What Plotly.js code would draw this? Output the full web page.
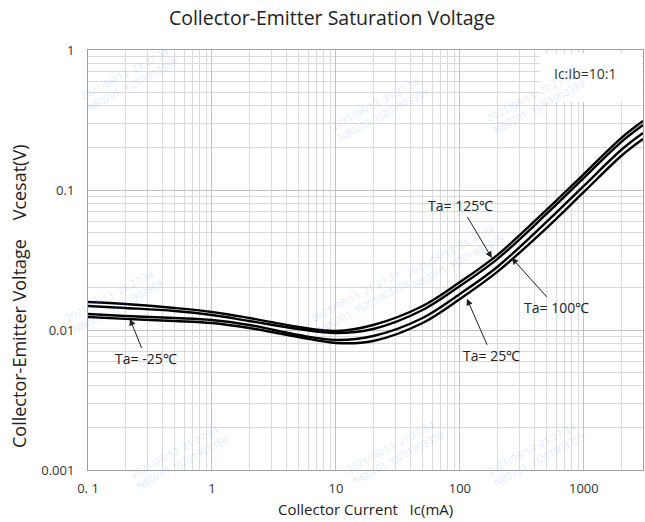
<!DOCTYPE html>
<html>
<head>
<meta charset="utf-8">
<script src="https://cdn.plot.ly/plotly-3.0.1.min.js"></script>
<style>html,body{margin:0;padding:0;background:#fff;}#chart{width:645px;height:522px;}</style>
</head>
<body>
<div id="chart"></div>
<script>
// Collector current (mA)
const icValues = [0.1, 0.2, 0.5, 1, 2, 5, 10, 20, 50, 100, 200, 500, 1000, 2000, 3000];
// Vce(sat) (V) for each ambient temperature
const vce125 = [0.01585, 0.01533, 0.01436, 0.01345, 0.01218, 0.0105, 0.00984, 0.01086, 0.01484, 0.0220, 0.0343, 0.0720, 0.130, 0.235, 0.311];
const vce100 = [0.01484, 0.01436, 0.01367, 0.0128, 0.0116, 0.01017, 0.00952, 0.01017, 0.01389, 0.0206, 0.0321, 0.0674, 0.122, 0.220, 0.291];
const vce25  = [0.01301, 0.01259, 0.01218, 0.01179, 0.01086, 0.00921, 0.00849, 0.00906, 0.01218, 0.0181, 0.0282, 0.0591, 0.107, 0.193, 0.255];
const vceM25 = [0.01238, 0.0120, 0.0116, 0.01122, 0.01033, 0.00891, 0.00808, 0.00835, 0.01122, 0.01665, 0.0260, 0.0535, 0.0968, 0.175, 0.231];

const xTickVals = [0.1, 1, 10, 100, 1000];
const xTickText = ['0. 1', '1', '10', '100', '1000'];
const yTickVals = [0.001, 0.01, 0.1, 1];
const yTickText = ['0.001', '0.01', '0.1', '1'];

const seriesNames = ['Ta=125℃', 'Ta=100℃', 'Ta=25℃', 'Ta=-25℃'];
const seriesValues = [vce125, vce100, vce25, vceM25];

// annotation labels and arrow targets [Ic, Vce]
const labelTexts = ['Ta= 125℃', 'Ta= 100℃', 'Ta= 25℃', 'Ta= -25℃'];
const labelTargets = [[181, 0.0327], [262, 0.0327], [114, 0.0167], [0.218, 0.0120]];
const labelOffsets = [[-31, -52], [45, 50], [25, 57], [16, 40]];

const watermarkText = '2021/08/13  21:27:34<br>NB0201  YJ201903359';
const watermarkPos = [[75, 40], [380, 70], [590, 62], [455, 255], [360, 300], [60, 300], [125, 495], [395, 490], [590, 492]];

const traces = seriesValues.map((v, i) => ({
  x: icValues, y: v, type: 'scatter', mode: 'lines', name: seriesNames[i],
  line: {color: '#000', width: 2.4, shape: 'spline', smoothing: 1},
  hoverinfo: 'skip'
}));

const font = 'Open Sans, Lato, sans-serif';
const L = 88, T = 50, W = 555, H = 420;
const px = (x) => (x - L) / W;
const py = (y) => (T + H - y) / H;

const annotations = [];
watermarkPos.forEach(p => annotations.push({
  xref: 'paper', yref: 'paper', x: px(p[0]), y: py(p[1]), text: watermarkText, showarrow: false,
  textangle: -28, font: {family: font, size: 10, color: 'rgba(110,160,255,0.25)'}, align: 'left'
}));
labelTexts.forEach((t, i) => annotations.push({
  x: Math.log10(labelTargets[i][0]), y: Math.log10(labelTargets[i][1]),
  xref: 'x', yref: 'y', text: t, showarrow: true,
  ax: labelOffsets[i][0], ay: labelOffsets[i][1],
  arrowhead: 2, arrowsize: 1.3, arrowwidth: 1, arrowcolor: '#222',
  font: {family: font, size: 14, color: '#222'}
}));
annotations.push({
  xref: 'paper', yref: 'paper', x: px(585), y: py(73), xanchor: 'center', yanchor: 'middle',
  text: 'Ic:Ib=10:1', showarrow: false, font: {family: font, size: 14, color: '#333'}
});
annotations.push({
  xref: 'paper', yref: 'paper', x: px(365), y: py(509), xanchor: 'center', yanchor: 'middle',
  text: 'Collector Current   Ic(mA)', showarrow: false, font: {family: font, size: 15, color: '#222'}
});
annotations.push({
  xref: 'paper', yref: 'paper', x: px(19), y: py(297), xanchor: 'center', yanchor: 'middle',
  text: 'Collector-Emitter Voltage    Vcesat(V)', showarrow: false, textangle: -90,
  font: {family: font, size: 18, color: '#222'}
});

const layout = {
  width: 645, height: 522,
  margin: {l: L, r: 645 - L - W, t: T, b: 522 - T - H},
  paper_bgcolor: '#fff', plot_bgcolor: '#fff',
  showlegend: false,
  title: {text: 'Collector-Emitter Saturation Voltage', x: 332 / 645, xanchor: 'center', y: 1 - 18 / 522, yanchor: 'middle',
          font: {family: font, size: 19.5, color: '#222'}},
  xaxis: {
    type: 'log', range: [-1, Math.log10(3000)],
    tickvals: xTickVals, ticktext: xTickText, ticks: '', ticklabelstandoff: 6,
    showgrid: true, gridcolor: '#c2c2c2', gridwidth: 1,
    minor: {dtick: 'D1', showgrid: true, gridcolor: '#dadada', gridwidth: 1, ticks: ''},
    showline: true, linecolor: '#a0a0a0', linewidth: 1, mirror: true, zeroline: false,
    tickfont: {family: font, size: 13, color: '#333'}
  },
  yaxis: {
    type: 'log', range: [-3, 0],
    tickvals: yTickVals, ticktext: yTickText, ticks: '', ticklabelstandoff: 10,
    showgrid: true, gridcolor: '#c2c2c2', gridwidth: 1,
    minor: {dtick: 'D1', showgrid: true, gridcolor: '#dadada', gridwidth: 1, ticks: ''},
    showline: true, linecolor: '#a0a0a0', linewidth: 1, mirror: true, zeroline: false,
    tickfont: {family: font, size: 13, color: '#333'}
  },
  shapes: [{type: 'rect', xref: 'paper', yref: 'paper', x0: px(540), x1: 0.998, y0: py(102), y1: py(53),
            fillcolor: '#fff', line: {width: 0}, layer: 'above'}],
  annotations: annotations
};

Plotly.newPlot('chart', traces, layout, {staticPlot: true, displayModeBar: false});
</script>
</body>
</html>
